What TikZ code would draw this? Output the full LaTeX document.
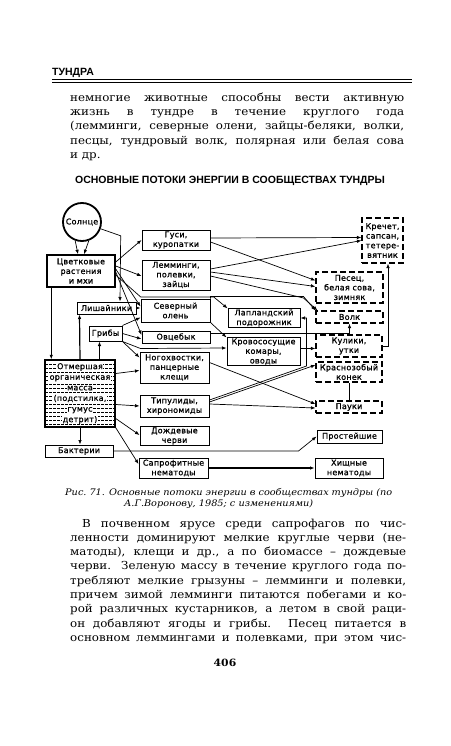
\documentclass[tikz,border=0pt]{standalone}
\usepackage{fontspec}
\setmainfont[FakeStretch=1.08]{DejaVu Serif}
\newfontfamily\headfont{Liberation Sans}
\newfontfamily\boxfont[LetterSpace=3,FakeBold=1]{DejaVu Sans}
\usetikzlibrary{arrows.meta,calc}
\tolerance=9999
\hbadness=10000
\newcommand\litbox[1]{{\fboxsep=0.6pt\colorbox{white}{#1}}}

\begin{document}
\begin{tikzpicture}[x=1pt,y=-1pt,
    box/.style={draw, line width=1pt, font=\boxfont\fontsize{8}{9.6}\selectfont, align=center, inner sep=0.5pt},
    pred/.style={box, line width=1.1pt, dash pattern=on 6pt off 3pt},
    arr/.style={-{Latex[length=4.5pt,width=3.5pt]}, line width=0.7pt},
    body/.style={anchor=north west, inner sep=0pt, text width=334pt, align=justify, font=\fontsize{11}{14.3}\selectfont},
  ]
  \useasboundingbox (0,0) rectangle (450,746);

  % page head
  \node[anchor=base west, inner sep=0pt, font=\headfont\bfseries\fontsize{10.5}{12}\selectfont] (head) at (52,76) {ТУНДРА};
  \draw[line width=0.5pt] (52,79.5) -- (412,79.5);
  \draw[line width=0.9pt] (52,82) -- (412,82);

  \node[body] (txta) at (70,92.5) {немногие животные способны вести активную\linebreak
    жизнь в тундре в течение круглого года\linebreak
    (лемминги, северные олени, зайцы-беляки, волки,\linebreak
    песцы, тундровый волк, полярная или белая сова\linebreak
    и~др.};

  \node[font=\headfont\bfseries\fontsize{10.5}{12}\selectfont] (title) at (230,181) {ОСНОВНЫЕ ПОТОКИ ЭНЕРГИИ В СООБЩЕСТВАХ ТУНДРЫ};

  % producers and decomposers
  \node[box, circle, line width=1.8pt, minimum size=38pt, inner sep=0pt] (sun) at (82,222) {Солнце};
  \node[box, line width=1.5pt, minimum width=68pt, minimum height=32pt] (plants) at (81,271) {Цветковые\\растения\\и мхи};
  \node[box, minimum width=59pt, minimum height=12pt] (lichen) at (106.5,308) {Лишайники};
  \node[box, minimum width=33pt, minimum height=15pt] (fungi) at (105.5,333.5) {Грибы};
  \node[box, line width=1.5pt, minimum width=70pt, minimum height=67pt,
        font=\boxfont\fontsize{8}{10.6}\selectfont,
        path picture={\foreach \k in {1,...,16}
          \draw[line width=0.5pt, dash pattern=on 2.5pt off 1.5pt]
            ([yshift={-\k*4pt}]path picture bounding box.north west) -- ([yshift={-\k*4pt}]path picture bounding box.north east);}]
        (dead) at (80,393.5) {\litbox{Отмершая}\\\litbox{органическая}\\\litbox{масса}\\\litbox{(подстилка,}\\\litbox{гумус}\\\litbox{детрит)}};
  \node[box, minimum width=68pt, minimum height=12pt] (bact) at (79,451) {Бактерии};

  % consumers
  \node[box, minimum width=68pt, minimum height=20pt] (geese) at (176,240) {Гуси,\\куропатки};
  \node[box, minimum width=68pt, minimum height=30pt] (lemm) at (176,275) {Лемминги,\\полевки,\\зайцы};
  \node[box, minimum width=69pt, minimum height=23pt] (deer) at (175.5,310.5) {Северный\\олень};
  \node[box, minimum width=68pt, minimum height=12pt] (ox) at (176,337) {Овцебык};
  \node[box, minimum width=69pt, minimum height=31pt] (spring) at (174.5,367.5) {Ногохвостки,\\панцерные\\клещи};
  \node[box, minimum width=69pt, minimum height=22pt] (tipul) at (174.5,406) {Типулиды,\\хирономиды};
  \node[box, minimum width=69pt, minimum height=18pt] (worms) at (174.5,436) {Дождевые\\черви};
  \node[box, minimum width=69pt, minimum height=20pt] (saprnem) at (173.5,468) {Сапрофитные\\нематоды};
  \node[box, minimum width=72pt, minimum height=18pt] (lapl) at (264,318) {Лапландский\\подорожник};
  \node[box, minimum width=73pt, minimum height=27pt] (mosq) at (263.5,351.5) {Кровососущие\\комары,\\оводы};

  % predators
  \node[pred, minimum width=41pt, minimum height=45pt] (falcon) at (382.5,240.5) {Кречет,\\сапсан,\\тетере-\\вятник};
  \node[pred, minimum width=67pt, minimum height=31pt] (fox) at (349.5,287.5) {Песец,\\белая сова,\\зимняк};
  \node[pred, minimum width=67pt, minimum height=12pt] (wolf) at (349.5,317) {Волк};
  \node[pred, minimum width=66pt, minimum height=22pt] (wader) at (349,346) {Кулики,\\утки};
  \node[pred, minimum width=66pt, minimum height=20pt] (pipit) at (349,372) {Краснозобый\\конек};
  \node[pred, minimum width=66pt, minimum height=12pt] (spider) at (349,407) {Пауки};
  \node[box, minimum width=65pt, minimum height=13pt] (protozoa) at (349.5,436.5) {Простейшие};
  \node[box, minimum width=68pt, minimum height=20pt] (prednem) at (349,468) {Хищные\\нематоды};

  % flows
  \draw[arr] (sun.-110) -- ([xshift=-3pt]plants.north);
  \draw[arr] (sun.-70) -- ([xshift=3pt]plants.north);
  \draw[arr] (sun.-20) -- ++(20,7) -- ([xshift=13.5pt]lichen.north);
  \draw[arr] ([yshift=9pt]plants.east) -- (geese.west);
  \draw[arr] ([yshift=5pt]plants.east) -- ([yshift=-1pt]lemm.west);
  \draw[arr] ([yshift=2pt]plants.east) -- ([yshift=4pt]deer.west);
  \draw[arr] ([yshift=-1pt]plants.east) -- ([yshift=2pt]ox.west);
  \draw[arr] ([yshift=-4pt]plants.east) -- ++(25,22) -- ++(73,0) -- (lapl.north west);
  \draw[arr] (lichen.east) -- ([yshift=2.5pt]deer.west);
  \draw[arr] (fungi.north east) -- ([yshift=-7pt]deer.west);
  \draw[arr] (fungi.east) -- ([yshift=-2pt]ox.west);
  \draw[arr] (fungi.south east) -- ([yshift=-6pt]spring.north west);
  \draw[arr] (fungi.south east) -- ++(18,7) -- ([yshift=3.5pt]mosq.west);
  \draw[arr] ([xshift=5pt]plants.south west) -- ([xshift=7pt]dead.north west);
  \draw[arr, line width=1.2pt] (dead.north) -- ([xshift=3pt]lichen.south west);
  \draw[arr, line width=1.2pt] ([xshift=19.5pt]dead.north) -- ([xshift=-6pt]fungi.south);
  \draw[arr] ([yshift=20pt]dead.east) -- ([yshift=-3pt]spring.west);
  \draw[arr] ([yshift=-11pt]dead.east) -- (tipul.west);
  \draw[arr] ([yshift=-25pt]dead.east) -- ([yshift=1pt]worms.west);
  \draw[arr] (dead.south east) -- ([yshift=4pt]saprnem.west);
  \draw[arr] (dead.south) -- (dead.south |- bact.north);
  \draw[arr] (bact.east) -- ++(185,0) -- (protozoa.west);
  \draw[arr, line width=1.1pt] (saprnem.east) -- (prednem.west);
  \draw[arr] ([yshift=4pt]tipul.east) -- ([yshift=7pt]pipit.west);
  \draw[arr] ([yshift=6pt]tipul.east) -- ++(97,-34) |- (lapl.east);
  \draw[arr] ([yshift=2pt]tipul.east) -- ([yshift=-1pt]spider.west);
  \draw[arr] ([yshift=5pt]spring.east) -- ([yshift=3pt]spider.west);
  \draw[line width=0.7pt] (spider.north) -- (pipit.south);
  \draw[arr] ([yshift=3pt]mosq.east) -- ([yshift=-2.5pt]wader.west);
  \draw[arr] ([yshift=4pt]ox.east) -| (wolf.south);
  \draw[arr] (deer.south east) -- (mosq.north west);
  \draw[arr] (deer.north east) -- ++(0,-2) -- ++(93,0) -- (wolf.north west);
  \draw[arr] ([yshift=-1pt]lemm.east) -- ++(93,22) -- ([xshift=2pt]wolf.north west);
  \draw[arr] ([yshift=2pt]geese.east) -- ([yshift=3pt]falcon.west);
  \draw[arr] ([yshift=-2pt]geese.east) -- ([yshift=7pt]fox.west);
  \draw[arr] ([yshift=6pt]lemm.east) -- (falcon.west);
  \draw[arr] ([yshift=3pt]lemm.east) -- ([yshift=1pt]fox.west);
  \draw[arr] (wader.east) -| ([xshift=5.5pt]falcon.south);

  \node[anchor=north west, inner sep=0pt, text width=327pt, align=justify, font=\itshape\fontsize{9}{11.5}\selectfont] (capt) at (65,488)
    {Рис.~71. Основные потоки энергии в сообществах тундры (по\linebreak
    \hspace*{\fill}А.Г.Воронову, 1985; с изменениями)\hspace*{\fill}\null\hspace*{20pt}\null};

  \node[body, text width=336pt] (txtb) at (70,518.5) {%
    \hspace*{12pt}В почвенном ярусе среди сапрофагов по чис-\linebreak
    ленности доминируют мелкие круглые черви (не-\linebreak
    матоды), клещи и др., а по биомассе – дождевые\linebreak
    черви. Зеленую массу в течение круглого года по-\linebreak
    требляют мелкие грызуны – лемминги и полевки,\linebreak
    причем зимой лемминги питаются побегами и ко-\linebreak
    рой различных кустарников, а летом в свой раци-\linebreak
    он добавляют ягоды и грибы. Песец питается в\linebreak
    основном леммингами и полевками, при этом чис-\parfillskip=0pt\par};

  \node[font=\bfseries\fontsize{10}{12}\selectfont] (pnum) at (225,663) {406};
\end{tikzpicture}
\end{document}
